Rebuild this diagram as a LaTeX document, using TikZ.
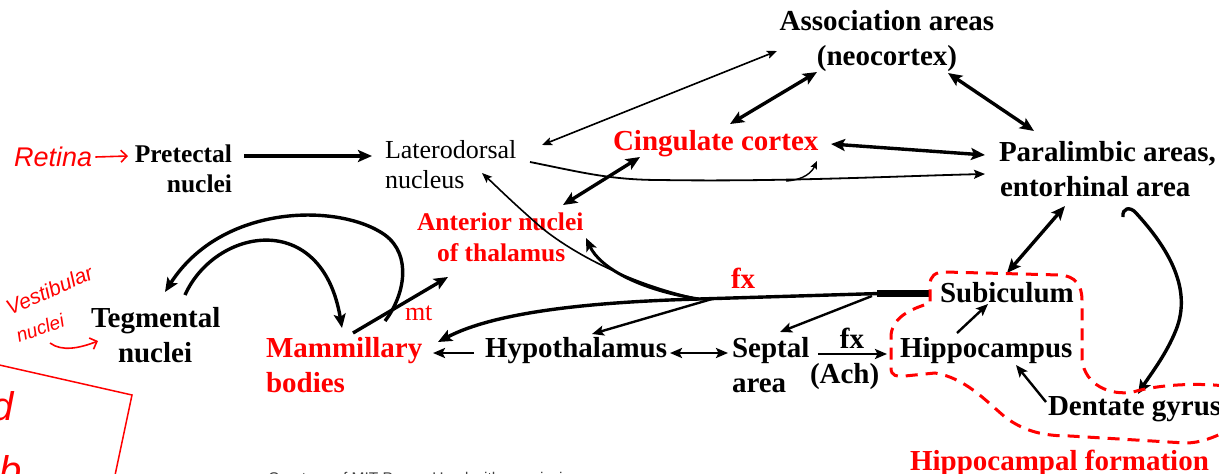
\documentclass[tikz,border=0pt]{standalone}
\usepackage{fontspec}
\setmainfont{Liberation Serif}
\newfontfamily\handfont{Liberation Sans}
\usetikzlibrary{arrows.meta}
\begin{document}
\begin{tikzpicture}[x=1pt,y=-1pt,
  txt/.style={inner sep=0pt, outer sep=0pt, anchor=base west},
  bl/.style={txt, font=\fontsize{29}{35}\selectfont\bfseries},
  bls/.style={txt, font=\fontsize{25.5}{30}\selectfont\bfseries},
  rbl/.style={bl, text=red},
  rbls/.style={bls, text=red},
  rg/.style={txt, font=\fontsize{26}{31}\selectfont},
  hand/.style={inner sep=0pt, text=red, font=\handfont\itshape\fontsize{21}{21}\selectfont},
  thickar/.style={line width=3.4pt, -{Stealth[length=14pt,width=12pt,inset=3pt]}},
  thickdbl/.style={line width=3.4pt, {Stealth[length=14pt,width=12pt,inset=3pt]}-{Stealth[length=14pt,width=12pt,inset=3pt]}},
  medar/.style={line width=2.4pt, -{Stealth[length=12pt,width=10pt,inset=2.5pt]}},
  meddbl/.style={line width=2.4pt, {Stealth[length=12pt,width=10pt,inset=2.5pt]}-{Stealth[length=12pt,width=10pt,inset=2.5pt]}},
  thinar/.style={line width=1.6pt, -{Stealth[length=10pt,width=8pt,inset=2pt]}},
  thindbl/.style={line width=1.6pt, {Stealth[length=10pt,width=8pt,inset=2pt]}-{Stealth[length=10pt,width=8pt,inset=2pt]}},
  handar/.style={red, line width=1.6pt, -{Straight Barb[length=6pt,width=12pt]}},
  hformline/.style={red, line width=3pt, dash pattern=on 12pt off 8pt},
]
\useasboundingbox (0,0) rectangle (1219,474);

% ---- nodes ----
\node[hand, font=\handfont\itshape\fontsize{27}{27}\selectfont, anchor=base west] (retina) at (14,166) {Retina};
\node[bls, anchor=base east] (pretectal) at (232,162) {Pretectal};
\node[bls, anchor=base east] (pretectal2) at (232,192) {nuclei};
\node[rg] (latero) at (385,158) {Laterodorsal};
\node[rg] (latero2) at (385,188) {nucleus};
\node[bl, anchor=base] (assoc) at (887,30) {Association areas};
\node[bl, anchor=base] (assoc2) at (887,65) {(neocortex)};
\node[rbl] (cing) at (613,150) {Cingulate cortex};
\node[bl] (para) at (999,161) {Paralimbic areas,};
\node[bl] (para2) at (1000,196) {entorhinal area};
\node[rbls] (ant) at (417,230) {Anterior nuclei};
\node[rbls] (ant2) at (437,261) {of thalamus};
\node[bl] (tegm) at (91,327) {Tegmental};
\node[bl] (tegm2) at (118,362) {nuclei};
\node[rbl] (mamm) at (266,357) {Mammillary};
\node[rbl] (mamm2) at (266,392) {bodies};
\node[bl] (hypo) at (485,357) {Hypothalamus};
\node[bl] (septal) at (732,357) {Septal};
\node[bl] (septal2) at (732,392) {area};
\node[bl, anchor=base] (fxb) at (852,348) {fx};
\node[bl] (ach) at (810,383) {(Ach)};
\node[bl] (hippo) at (900,357) {Hippocampus};
\node[bl] (subic) at (940,302) {Subiculum};
\node[bl] (dentate) at (1048,415) {Dentate gyrus};
\node[rbl] (hform) at (910,470) {Hippocampal formation};
\node[rbl] (fxr) at (731,288) {fx};
\node[rg, text=red] (mt) at (405,320) {mt};
\node[hand, rotate=24, anchor=base west] (vest) at (10,316) {Vestibular};
\node[hand, font=\handfont\itshape\fontsize{19}{19}\selectfont, rotate=20, anchor=base west] (vest2) at (19,343) {nuclei};
\node[inner sep=0pt, text=red, font=\handfont\itshape\fontsize{40}{40}\selectfont, anchor=base east] (dd) at (14,420) {d};
\node[inner sep=0pt, text=red, font=\handfont\itshape\fontsize{40}{40}\selectfont, anchor=base east] (bb) at (22,484) {b};
\node[inner sep=0pt, text=black!75, font=\handfont\fontsize{15.5}{15.5}\selectfont, anchor=north west] (credit) at (268,472) {Courtesy of MIT Press. Used with permission.};

% ---- named coordinates for connector ends ----
\coordinate (j) at (699,299);

% ---- connectors ----
\draw[handar] (retina.base east) ++(3,-9) -- (128,156);
\draw[thickar] (pretectal.east |- 0,156) ++(12,0) -- (372,156);
\draw[thindbl] (542,145) -- (777,51);
\draw[thickdbl] (730,124) -- (817,72);
\draw[thickdbl] (948,73) -- (1034,131);
\draw[thickdbl] (831,144) -- (985,155);
\draw[line width=1.8pt, -{Stealth[length=11pt,width=9pt,inset=2pt]}]
  (530,162) .. controls (580,172) and (610,180) .. (660,180)
  .. controls (780,182) and (900,176) .. (985,174);
\draw[line width=1.4pt, -{Stealth[length=8pt,width=7pt,inset=1.5pt]}]
  (786,181) .. controls (804,180) and (812,172) .. (817,161);
\draw[thickdbl] (563,205) -- (640,157);

% fornix
\draw[line width=7pt] (931,293) -- (877,293);
\draw[thickar] (879,293.5) -- (j) .. controls (590,302) and (495,312) .. (438,342);
\draw[line width=3pt, -{Stealth[length=13pt,width=11pt,inset=3pt]}]
  (j) .. controls (640,290) and (600,268) .. (586,238);
\draw[thinar] (j) .. controls (620,282) and (560,245) .. (535,222)
  .. controls (510,200) and (495,185) .. (482,173);
\draw[medar] (712,299) -- (592,334);
\draw[medar] (872,296) -- (780,332);

\draw[meddbl] (670,353) -- (728,353);
\draw[medar] (474,353) -- (433,353);
\draw[medar] (818,354) -- (887,354);
\draw[medar] (957,333) -- (988,304);
\draw[medar] (1046,402) -- (1016,365);
\draw[thickdbl] (1065,206) -- (1007,273);
\draw[thickar] (1123,217) .. controls (1122,208) and (1130,206) .. (1136,213)
  .. controls (1170,250) and (1192,290) .. (1176,330)
  .. controls (1166,355) and (1150,375) .. (1138,394);

% loops
\draw[thickar] (385,321) .. controls (405,295) and (412,255) .. (385,235)
  .. controls (340,203) and (222,203) .. (165,292);
\draw[thickar] (185,295) .. controls (215,228) and (322,208) .. (342,328);
\draw[thickar] (353,333) -- (448,277);

% handwritten arrow
\draw[handar] (50,343) .. controls (62,352) and (80,348) .. (98,341);

% red box
\draw[red, line width=1.5pt] (-5,364) -- (132,395) -- (114,480);

% hippocampal formation outline
\draw[hformline] (1225,386) .. controls (1200,383) and (1160,384) .. (1133,392)
  .. controls (1110,396) and (1085,385) .. (1082,360) -- (1082,300)
  .. controls (1082,285) and (1075,276) .. (1060,275) -- (945,272)
  .. controls (935,272) and (930,276) .. (930,285) -- (930,303)
  .. controls (915,308) and (893,315) .. (891,335) -- (891,368)
  .. controls (891,376) and (897,377) .. (905,376) -- (935,373)
  .. controls (965,378) and (985,400) .. (1005,417)
  .. controls (1025,432) and (1045,436) .. (1070,436) -- (1185,443)
  .. controls (1200,443) and (1212,438) .. (1225,432);
\end{tikzpicture}
\end{document}
